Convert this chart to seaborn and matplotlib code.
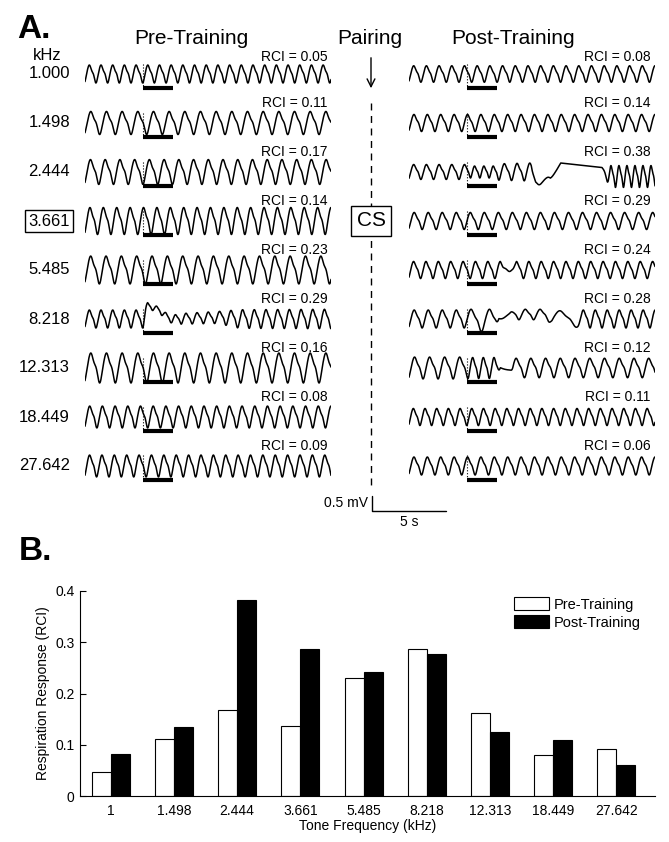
import numpy as np
import matplotlib
matplotlib.use('Agg')
import matplotlib.pyplot as plt
from matplotlib.lines import Line2D
import seaborn as sns
import pandas as pd

sns.set_style('ticks')
plt.rcParams['font.family'] = ['Liberation Sans', 'DejaVu Sans']
plt.rcParams.update({'text.color': 'black', 'axes.labelcolor': 'black',
                     'xtick.color': 'black', 'ytick.color': 'black',
                     'axes.edgecolor': 'black'})

# ---- data ----
freq_labels = ['1.000', '1.498', '2.444', '3.661', '5.485', '8.218', '12.313', '18.449', '27.642']
tick_labels = ['1', '1.498', '2.444', '3.661', '5.485', '8.218', '12.313', '18.449', '27.642']
rci_pre = [0.05, 0.11, 0.17, 0.14, 0.23, 0.29, 0.16, 0.08, 0.09]
rci_post = [0.08, 0.14, 0.38, 0.29, 0.24, 0.28, 0.12, 0.11, 0.06]
bar_pre = [0.047, 0.111, 0.168, 0.136, 0.230, 0.287, 0.162, 0.080, 0.092]
bar_post = [0.081, 0.135, 0.383, 0.286, 0.242, 0.277, 0.124, 0.110, 0.060]

# breathing rate (Hz) and peak-to-peak size (mV) of each trace
pre_rate = [1.26, 0.94, 1.0, 1.1, 0.96, 1.26, 0.94, 1.16, 1.19]
pre_pp = [0.6, 0.77, 0.83, 0.9, 0.93, 0.6, 1.0, 0.73, 0.73]
post_rate = [1.16, 1.1, 1.16, 1.05, 1.19, 1.05, 0.98, 1.26, 1.1]
post_pp = [0.55, 0.57, 0.5, 0.57, 0.57, 0.6, 0.73, 0.57, 0.6]

# traces whose rhythm breaks after the tone: (time s, rate Hz, p-p mV, baseline mV)
pre_knots = {
    5: [(0, 1.26, 0.6, 0), (3.95, 1.26, 0.6, 0), (4.25, 1.6, 0.2, 0.45),
        (5.0, 1.6, 0.2, 0.3), (5.9, 1.6, 0.2, -0.05), (6.2, 1.35, 0.35, 0),
        (9.0, 1.3, 0.4, 0.05), (10.5, 1.26, 0.62, 0), (16.7, 1.26, 0.65, 0)],
}
post_knots = {
    2: [(0, 1.16, 0.5, 0), (3.9, 1.16, 0.5, 0), (4.0, 1.58, 0.4, 0),
        (5.9, 1.58, 0.4, 0), (6.1, 1.16, 0.55, 0), (8.3, 1.16, 0.6, 0),
        (8.6, 0.7, 0.25, -0.3), (9.6, 0.7, 0.25, -0.3), (10.3, 0.0, 0.0, 0.3),
        (13.1, 0.0, 0.0, 0.15), (13.6, 1.84, 0.73, -0.15), (16.7, 1.84, 0.73, -0.15)],
    4: [(0, 1.19, 0.57, 0), (6.2, 1.19, 0.57, 0), (6.5, 0.8, 0.2, 0.05),
        (7.0, 0.8, 0.2, 0.05), (7.3, 1.19, 0.57, 0), (16.7, 1.19, 0.57, 0)],
    5: [(0, 1.05, 0.6, 0), (3.9, 1.05, 0.6, 0), (4.1, 0.8, 0.75, -0.05),
        (5.9, 0.8, 0.75, -0.05), (6.1, 0.5, 0.1, 0.05), (6.8, 0.8, 0.15, 0.1),
        (7.1, 1.0, 0.35, 0.15), (9.4, 1.0, 0.35, 0.15), (9.7, 0.5, 0.55, 0),
        (11.4, 0.5, 0.55, 0), (11.7, 1.23, 0.6, 0), (16.7, 1.23, 0.6, 0)],
    6: [(0, 0.98, 0.73, 0), (3.9, 0.98, 0.73, 0), (4.05, 1.38, 0.7, 0),
        (6.0, 1.38, 0.7, 0), (6.2, 0.3, 0.1, 0.05), (6.9, 0.3, 0.1, -0.05),
        (7.1, 1.0, 0.65, 0), (16.7, 1.0, 0.65, 0)],
}

T = 16.7            # s shown per trace
tone_on, tone_len = 3.95, 2.0
px_mv = 30.0        # pixels per mV
row_gap = 49 / px_mv

t = np.linspace(0, T, 1500)
grid = np.linspace(0, 2 * np.pi, 500)


def shape(ph):
    return np.sin(ph) - 0.08 * np.sin(3 * ph) + 0.2 * np.sin(2 * ph + 0.5)


s_grid = shape(grid)
s_mid, s_pp = (s_grid.max() + s_grid.min()) / 2, np.ptp(s_grid)


def trace(knots):
    k = np.array(knots, dtype=float)
    rate = np.interp(t, k[:, 0], k[:, 1])
    pp = np.interp(t, k[:, 0], k[:, 2])
    base = np.interp(t, k[:, 0], k[:, 3])
    ph = -1.0 + 2 * np.pi * np.concatenate([[0], np.cumsum(rate[:-1] * np.diff(t))])
    return base + pp * (shape(ph) - s_mid) / s_pp


def fx(px):
    return px / 669


def fy(py):
    return 1 - py / 842


fig = plt.figure(figsize=(6.69, 8.42), dpi=100)

ax_pre = fig.add_axes([fx(85), fy(495), 246 / 669, 445 / 842])
ax_post = fig.add_axes([fx(409), fy(495), 246 / 669, 445 / 842])

for ax, rates, pps, knots_map, rcis, x_rci in [
        (ax_pre, pre_rate, pre_pp, pre_knots, rci_pre, 16.46),
        (ax_post, post_rate, post_pp, post_knots, rci_post, 16.4)]:
    for i in range(len(freq_labels)):
        knots = knots_map.get(i, [(0, rates[i], pps[i], 0), (T, rates[i], pps[i], 0)])
        y0 = -i * row_gap
        sns.lineplot(x=t, y=y0 + trace(knots), ax=ax, color='black', lw=1.1,
                     estimator=None, sort=False)
        ax.plot([tone_on, tone_on], [y0 + 0.35, y0 - 0.45], color='black', lw=0.8, ls=':')
        ax.plot([tone_on, tone_on + tone_len], [y0 - 0.47, y0 - 0.47], color='black',
                lw=3, solid_capstyle='butt')
        dy = 17 / px_mv if i == 0 else 20 / px_mv
        ax.text(x_rci, y0 + dy, 'RCI = %.2f' % rcis[i], fontsize=10, ha='right', va='center')
    ax.set_xlim(0, T)
    ax.set_ylim(-421 / px_mv, 24 / px_mv)
    ax.axis('off')

# scale bar (0.5 mV, 5 s)
sx, sy = -2.52, -437 / px_mv
ax_post.plot([sx, sx, sx + 5], [sy + 0.5, sy, sy], color='black', lw=1, clip_on=False)
ax_post.text(sx - 0.25, sy + 0.27, '0.5 mV', fontsize=10, ha='right', va='center')
ax_post.text(sx + 2.55, sy - 0.35, '5 s', fontsize=10, ha='center', va='center')

# row labels and headings
for i, lab in enumerate(freq_labels):
    kw = {}
    if lab == '3.661':
        kw['bbox'] = dict(boxstyle='square,pad=0.2', fc='white', ec='black', lw=1)
    fig.text(fx(70), fy(74 + 49 * i), lab, fontsize=12, ha='right', va='center', **kw)

fig.text(fx(17), fy(29), 'A.', fontsize=24, fontweight='bold', ha='left', va='center')
fig.text(fx(47), fy(55), 'kHz', fontsize=12, ha='center', va='center')
fig.text(fx(191), fy(38), 'Pre-Training', fontsize=15, ha='center', va='center')
fig.text(fx(370), fy(39), 'Pairing', fontsize=15, ha='center', va='center')
fig.text(fx(513), fy(39), 'Post-Training', fontsize=15, ha='center', va='center')

fig.add_artist(Line2D([fx(371), fx(371)], [fy(103), fy(487)], color='black', lw=1,
                      ls=(0, (5, 4))))
ax_post.annotate('', xy=(fx(371), fy(91)), xytext=(fx(371), fy(55)),
                 xycoords='figure fraction', textcoords='figure fraction',
                 annotation_clip=False,
                 arrowprops=dict(arrowstyle='->', lw=1, color='black', mutation_scale=14))
fig.text(fx(371), fy(221), 'CS', fontsize=15, ha='center', va='center',
         bbox=dict(boxstyle='square,pad=0.25', fc='white', ec='black', lw=1))

# ---- panel B ----
fig.text(fx(19), fy(552), 'B.', fontsize=24, fontweight='bold', ha='left', va='center')

df = pd.DataFrame({'freq': tick_labels * 2,
                   'cond': ['Pre-Training'] * 9 + ['Post-Training'] * 9,
                   'rci': bar_pre + bar_post})
axB = fig.add_axes([fx(80), fy(796), 575 / 669, 205 / 842])
sns.barplot(data=df, x='freq', y='rci', hue='cond', palette=['white', 'black'],
            saturation=1, edgecolor='black', linewidth=0.8, width=0.6, ax=axB)
axB.set_xlim(-0.485, 8.61)
axB.set_ylim(0, 0.4)
axB.set_yticks([0, 0.1, 0.2, 0.3, 0.4])
axB.set_yticklabels(['0', '0.1', '0.2', '0.3', '0.4'])
axB.tick_params(axis='y', direction='in', length=4, labelsize=10, pad=4)
axB.tick_params(axis='x', length=0, labelsize=10, pad=6)
axB.set_xlabel('Tone Frequency (kHz)', fontsize=10)
axB.set_ylabel('Respiration Response (RCI)', fontsize=10)
axB.xaxis.set_label_coords(0.5, -0.11)
axB.yaxis.set_label_coords(-0.052, 0.5)
sns.despine(ax=axB)
for sp in axB.spines.values():
    sp.set_linewidth(0.8)

handles, labels = axB.get_legend_handles_labels()
axB.legend(handles, labels, loc='upper left', bbox_to_anchor=(fx(514), fy(597)),
           bbox_transform=fig.transFigure, frameon=False, fontsize=10.5,
           handlelength=2.4, handleheight=1.0, labelspacing=0.25, handletextpad=0.35,
           borderpad=0, borderaxespad=0)

fig.savefig('out.png', dpi=100)
